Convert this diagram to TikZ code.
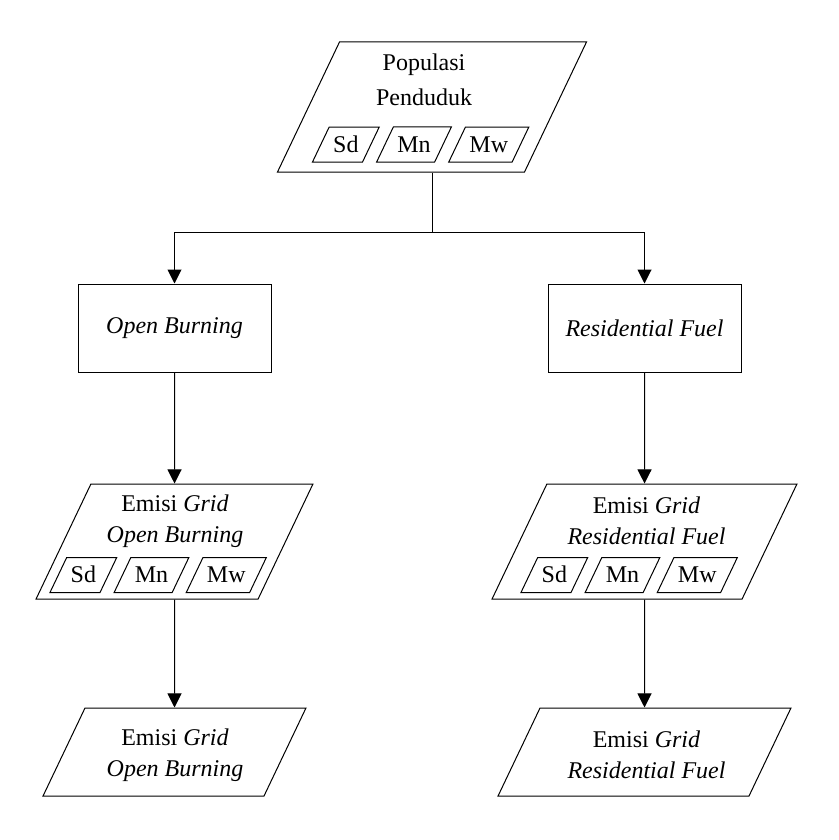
\documentclass[tikz,border=0pt]{standalone}
\usepackage{fontspec}
\setmainfont{Liberation Serif}
\usetikzlibrary{arrows.meta,positioning,shapes.geometric}

\begin{document}
\begin{tikzpicture}[
      x=0.5pt, y=-0.5pt,
      line/.style={line width=0.5pt, black},
      arr/.style={-{Triangle[length=7pt,width=7pt]}, line width=0.5pt, black},
      para/.style={draw, line width=0.5pt, trapezium, trapezium left angle=64.5,
                   trapezium right angle=115.5, inner sep=0pt, text depth=0pt},
      subpara/.style={para, inner xsep=2pt, text height=12.5pt, text depth=5pt,
                      font=\large},
      proc/.style={draw, line width=0.5pt, minimum width=96.5pt,
                   minimum height=44pt, font=\large\itshape},
      txt/.style={font=\large, align=center, inner sep=0pt}
    ]
    \useasboundingbox (0,0) rectangle (839,840);
    % population source
    \node[para, text width=92.5pt, text height=65pt] (pop) at (432,107) {};
    \node[txt] (pop-t) at (424,80) {Populasi\\[3.5pt]Penduduk};
    \node[subpara] (pop-mn) at (414,144.5) {Mn};
    \node[subpara, left=6.5pt of pop-mn] (pop-sd) {Sd};
    \node[subpara, right=6.5pt of pop-mn] (pop-mw) {Mw};
    % sectors
    \node[proc] (ob) at (174.5,328) {Open Burning};
    \node[proc] (rf) at (644.5,328) {Residential Fuel};
    % gridded emission per sector
    \node[para, text width=83.6pt, text height=57.5pt] (eob) at (174.5,541.5) {};
    \node[txt] (eob-t) at (175,521) {Emisi \textit{Grid}\\[1.5pt]\textit{Open Burning}};
    \node[subpara] (eob-mn) at (151.5,575) {Mn};
    \node[subpara, left=6.5pt of eob-mn] (eob-sd) {Sd};
    \node[subpara, right=6.5pt of eob-mn] (eob-mw) {Mw};
    \node[para, text width=97.6pt, text height=57.5pt] (erf) at (644.5,541.5) {};
    \node[txt] (erf-t) at (646.5,521) {Emisi \textit{Grid}\\[1.5pt]\textit{Residential Fuel}};
    \node[subpara] (erf-mn) at (622.5,575) {Mn};
    \node[subpara, left=6.5pt of erf-mn] (erf-sd) {Sd};
    \node[subpara, right=6.5pt of erf-mn] (erf-mw) {Mw};
    % final output
    \node[para, text width=89.5pt, text height=44pt] (fob) at (174.5,752) {};
    \node[txt] (fob-t) at (175,755) {Emisi \textit{Grid}\\[1.5pt]\textit{Open Burning}};
    \node[para, text width=104.5pt, text height=44pt] (frf) at (644.5,752) {};
    \node[txt] (frf-t) at (646.5,755) {Emisi \textit{Grid}\\[1.5pt]\textit{Residential Fuel}};
    \coordinate (split) at (432,232);
    \draw[line] (pop.south) -- (split);
    \draw[arr] (split) -| (ob.north);
    \draw[arr] (split) -| (rf.north);
    \draw[arr] (ob.south) -- (eob.north);
    \draw[arr] (rf.south) -- (erf.north);
    \draw[arr] (eob.south) -- (fob.north);
    \draw[arr] (erf.south) -- (frf.north);
  \end{tikzpicture}
\end{document}
